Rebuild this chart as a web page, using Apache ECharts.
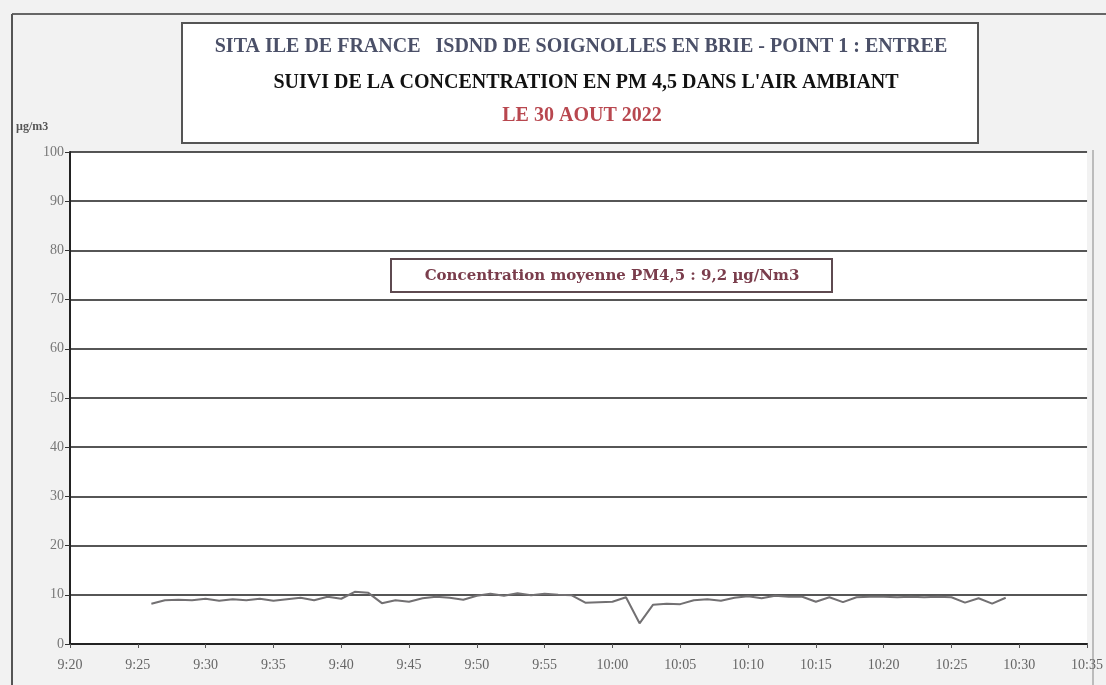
<!DOCTYPE html>
<html>
<head>
<meta charset="utf-8">
<script src="https://cdn.jsdelivr.net/npm/echarts@6/dist/echarts.min.js"></script>
<style>
  html, body { margin: 0; padding: 0; background: #f2f2f2; }
  #main { width: 1106px; height: 685px; }
</style>
</head>
<body>
<div id="main"></div>
<script>
// minute-by-minute readings, 9:26 -> 10:29
var times = [
  '9:26','9:27','9:28','9:29','9:30','9:31','9:32','9:33','9:34','9:35',
  '9:36','9:37','9:38','9:39','9:40','9:41','9:42','9:43','9:44','9:45',
  '9:46','9:47','9:48','9:49','9:50','9:51','9:52','9:53','9:54','9:55',
  '9:56','9:57','9:58','9:59','10:00','10:01','10:02','10:03','10:04','10:05',
  '10:06','10:07','10:08','10:09','10:10','10:11','10:12','10:13','10:14','10:15',
  '10:16','10:17','10:18','10:19','10:20','10:21','10:22','10:23','10:24','10:25',
  '10:26','10:27','10:28','10:29'
];
var pm45 = [
  8.2, 8.9, 9.0, 8.9, 9.2, 8.8, 9.1, 8.9, 9.2, 8.8,
  9.1, 9.4, 8.9, 9.6, 9.2, 10.6, 10.4, 8.3, 8.9, 8.6,
  9.3, 9.6, 9.4, 9.0, 9.8, 10.2, 9.8, 10.3, 9.9, 10.2,
  10.0, 9.9, 8.4, 8.5, 8.6, 9.5, 4.2, 8.0, 8.2, 8.1,
  8.9, 9.1, 8.8, 9.4, 9.7, 9.3, 9.8, 9.6, 9.6, 8.6,
  9.5, 8.5, 9.5, 9.6, 9.6, 9.5, 9.6, 9.5, 9.6, 9.5,
  8.4, 9.3, 8.2, 9.4
];
var titleLines = [
  'SITA ILE DE FRANCE   ISDND DE SOIGNOLLES EN BRIE - POINT 1 : ENTREE',
  'SUIVI DE LA CONCENTRATION EN PM 4,5 DANS L\'AIR AMBIANT',
  'LE 30 AOUT 2022'
];
var noteText = 'Concentration moyenne PM4,5 : 9,2 µg/Nm3';
var yUnit = 'µg/m3';

function toMinutes(t) {
  var p = t.split(':');
  return parseInt(p[0]) * 60 + parseInt(p[1]);
}
function fmtTime(v) {
  var h = Math.floor(v / 60), m = v % 60;
  return h + ':' + (m < 10 ? '0' + m : m);
}

var seriesData = [];
for (var i = 0; i < times.length; i++) {
  seriesData.push([toMinutes(times[i]), pm45[i]]);
}

var chart = echarts.init(document.getElementById('main'));
var serif = '"Liberation Serif", "DejaVu Serif", serif';

var option = {
  backgroundColor: '#f2f2f2',
  animation: false,
  grid: {
    left: 70,
    right: 14,
    top: 152,
    bottom: 41,
    show: true,
    backgroundColor: '#ffffff',
    borderWidth: 0
  },
  xAxis: {
    type: 'value',
    min: 560,
    max: 635,
    interval: 5,
    axisLine: { show: true, lineStyle: { color: '#222', width: 2 } },
    axisTick: { show: true, inside: false, length: 4, lineStyle: { color: '#555' } },
    splitLine: { show: false },
    axisLabel: {
      formatter: fmtTime,
      color: '#666',
      fontFamily: serif,
      fontSize: 14,
      margin: 14
    }
  },
  yAxis: {
    type: 'value',
    min: 0,
    max: 100,
    interval: 10,
    axisLine: { show: true, lineStyle: { color: '#222', width: 2 } },
    axisTick: { show: true, length: 5, lineStyle: { color: '#333' } },
    splitLine: { show: true, lineStyle: { color: '#1e1e1e', width: 1.6 } },
    axisLabel: {
      color: '#777',
      fontFamily: serif,
      fontSize: 14,
      margin: 6
    }
  },
  series: [{
    name: 'PM4,5',
    type: 'line',
    data: seriesData,
    showSymbol: false,
    lineStyle: { color: '#727072', width: 2 },
    z: 3
  }],
  graphic: [
    // scan frame
    { type: 'line', shape: { x1: 12, y1: 14, x2: 1106, y2: 14 }, style: { stroke: '#666', lineWidth: 2 } },
    { type: 'line', shape: { x1: 12, y1: 14, x2: 12, y2: 685 }, style: { stroke: '#555', lineWidth: 2 } },
    { type: 'line', shape: { x1: 1093, y1: 150, x2: 1093, y2: 685 }, style: { stroke: '#aaa', lineWidth: 1.5 } },
    {
      type: 'text', left: 16, top: 121,
      style: { text: yUnit, fill: '#555', font: 'bold 12px ' + serif }
    },
    // title box
    {
      type: 'rect', shape: { x: 182, y: 23, width: 796, height: 120 },
      style: { fill: '#ffffff', stroke: '#555', lineWidth: 2 }
    },
    {
      type: 'text', x: 581, y: 47,
      style: { text: titleLines[0], fill: '#4b5068', font: 'bold 20px ' + serif, align: 'center', verticalAlign: 'middle' }
    },
    {
      type: 'text', x: 586, y: 83,
      style: { text: titleLines[1], fill: '#111', font: 'bold 20px ' + serif, align: 'center', verticalAlign: 'middle' }
    },
    {
      type: 'text', x: 582, y: 116,
      style: { text: titleLines[2], fill: '#b8474f', font: 'bold 20px ' + serif, align: 'center', verticalAlign: 'middle' }
    },
    // mean value note
    {
      type: 'rect', shape: { x: 391, y: 259, width: 441, height: 33 },
      style: { fill: '#ffffff', stroke: '#5e4a50', lineWidth: 2 }, z: 10
    },
    {
      type: 'text', x: 612, y: 276, z: 11,
      style: { text: noteText, fill: '#7a3d4c', font: 'bold 15px "DejaVu Serif", serif', align: 'center', verticalAlign: 'middle' }
    }
  ]
};

chart.setOption(option);
</script>
</body>
</html>
